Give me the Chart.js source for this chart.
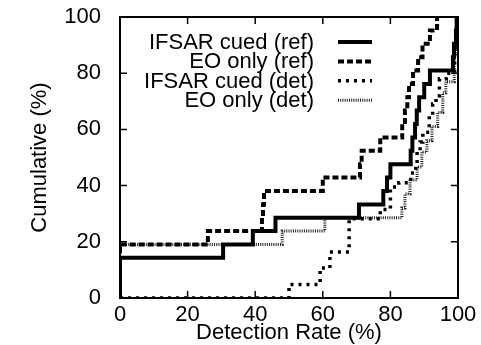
<!DOCTYPE html>
<html>
<head>
<meta charset="utf-8">
<script src="https://cdn.jsdelivr.net/npm/chart.js@4/dist/chart.umd.min.js"></script>
<style>
  html, body { margin: 0; padding: 0; background: #fff; }
  #wrap { width: 481px; height: 345px; }
</style>
</head>
<body>
<div id="wrap"><canvas id="cdfChart"></canvas></div>
<script>
// Step points: x = detection rate (%), y = cumulative (%)
const ifsarRefX = [0, 0, 30.5, 39.3, 46, 70.7, 77.9, 79, 80, 86, 86.5, 87.3, 87.8, 88.5, 90, 91.7, 98.5, 98.8, 99.4, 99.6];
const ifsarRefY = [0, 14.3, 19.0, 23.8, 28.6, 33.3, 38.1, 42.9, 47.6, 52.4, 57.1, 61.9, 66.7, 71.4, 76.2, 81.0, 85.7, 90.5, 95.2, 100];

const eoRefX = [0, 0, 26, 42, 42.3, 42.6, 60, 71, 71.5, 77, 83.5, 84.3, 85, 85.5, 86.7, 88.2, 89.5, 91.7, 93.8];
const eoRefY = [0, 19.0, 23.8, 28.6, 33.3, 38.1, 42.9, 47.6, 52.4, 57.1, 61.9, 66.7, 71.4, 76.2, 81.0, 85.7, 90.5, 95.2, 100];

const ifsarDetX = [0, 50, 59.2, 62.1, 67.8, 77, 80, 82.5, 86, 87.5, 87.9, 88.8, 89.6, 91.5, 92.5, 93.5, 94.5, 96.5, 99, 99.7];
const ifsarDetY = [0, 4.8, 10.7, 16.4, 28.2, 31.5, 39.5, 41, 44.5, 48, 52, 55.5, 59, 65, 69, 72, 78, 80, 89, 100];

const eoDetX = [0, 0, 48, 60.6, 83.4, 84.3, 85.8, 87.9, 89.3, 90.8, 92.3, 94, 95.5, 96.4, 98.9, 99.4, 100];
const eoDetY = [0, 19, 23.8, 28.6, 32, 37, 42, 46.6, 52, 56, 61, 66, 73, 77, 86, 92, 100];

const seriesLabels = ['IFSAR cued (ref)', 'EO only (ref)', 'IFSAR cued (det)', 'EO only (det)'];
const tickValues = [0, 20, 40, 60, 80, 100];

const FONT = 'Liberation Sans, Arial, Helvetica, sans-serif';

const toPoints = (xs, ys) => xs.map((x, i) => ({ x: x, y: ys[i] }));

// gnuplot-like frame with inward ticks on all four sides
const framePlugin = {
    id: 'frame',
    afterDatasetsDraw(chart) {
        const { ctx, chartArea: a, scales } = chart;
        ctx.save();
        ctx.strokeStyle = '#000';
        ctx.lineWidth = 1.5;
        ctx.beginPath();
        tickValues.forEach(v => {
            const px = scales.x.getPixelForValue(v);
            const py = scales.y.getPixelForValue(v);
            ctx.moveTo(px, a.bottom); ctx.lineTo(px, a.bottom - 7);
            ctx.moveTo(px, a.top); ctx.lineTo(px, a.top + 7);
            ctx.moveTo(a.left, py); ctx.lineTo(a.left + 7, py);
            ctx.moveTo(a.right, py); ctx.lineTo(a.right - 7, py);
        });
        ctx.stroke();
        ctx.lineWidth = 2;
        ctx.strokeRect(a.left, a.top, a.right - a.left, a.bottom - a.top);
        ctx.restore();
    }
};

// key in the top left: right-aligned text, sample line to its right
const keyPlugin = {
    id: 'key',
    afterDraw(chart) {
        const { ctx, chartArea: a } = chart;
        ctx.save();
        ctx.font = '22px ' + FONT;
        ctx.fillStyle = '#000';
        ctx.textAlign = 'right';
        ctx.textBaseline = 'middle';
        chart.data.datasets.forEach((ds, i) => {
            const y = a.top + 25 + i * 19.4;
            ctx.fillText(ds.label, 314, y + 1);
            ctx.beginPath();
            ctx.strokeStyle = ds.borderColor;
            ctx.lineWidth = ds.borderWidth;
            ctx.setLineDash(ds.borderDash || []);
            ctx.moveTo(338, y);
            ctx.lineTo(372, y);
            ctx.stroke();
        });
        ctx.restore();
    }
};

const ctx = document.getElementById('cdfChart').getContext('2d');
new Chart(ctx, {
    type: 'line',
    data: {
        datasets: [{
            label: seriesLabels[0],
            data: toPoints(ifsarRefX, ifsarRefY),
            borderColor: '#000',
            borderWidth: 4,
            borderDash: []
        }, {
            label: seriesLabels[1],
            data: toPoints(eoRefX, eoRefY),
            borderColor: '#000',
            borderWidth: 4,
            borderDash: [6, 3]
        }, {
            label: seriesLabels[2],
            data: toPoints(ifsarDetX, ifsarDetY),
            borderColor: '#000',
            borderWidth: 3.5,
            borderDash: [3, 5]
        }, {
            label: seriesLabels[3],
            data: toPoints(eoDetX, eoDetY),
            borderColor: '#222',
            borderWidth: 3,
            borderDash: [1, 1.2]
        }]
    },
    options: {
        responsive: true,
        maintainAspectRatio: false,
        animation: false,
        layout: { padding: { top: 17, right: 23, left: 0, bottom: 0 } },
        elements: {
            point: { radius: 0 },
            line: { stepped: 'before', tension: 0, fill: false, borderCapStyle: 'butt' }
        },
        plugins: {
            legend: { display: false },
            tooltip: { enabled: false }
        },
        scales: {
            x: {
                type: 'linear',
                min: 0,
                max: 100,
                afterFit: s => { s.height = 47; },
                afterBuildTicks: s => { s.ticks = tickValues.map(v => ({ value: v })); },
                grid: { display: false },
                border: { display: false },
                ticks: { color: '#000', padding: -4, maxRotation: 0, font: { family: FONT, size: 22 } },
                title: {
                    display: true,
                    text: 'Detection Rate (%)',
                    color: '#000',
                    font: { family: FONT, size: 22, lineHeight: 1 },
                    padding: { top: 0, bottom: 1 }
                }
            },
            y: {
                type: 'linear',
                min: 0,
                max: 100,
                afterFit: s => { s.width = 120; },
                afterBuildTicks: s => { s.ticks = tickValues.map(v => ({ value: v })); },
                grid: { display: false },
                border: { display: false },
                ticks: { color: '#000', padding: 11, font: { family: FONT, size: 22, lineHeight: 0.4 } },
                title: {
                    display: true,
                    text: 'Cumulative (%)',
                    color: '#000',
                    font: { family: FONT, size: 22, lineHeight: 1 },
                    padding: { top: 29, bottom: 0 }
                }
            }
        }
    },
    plugins: [framePlugin, keyPlugin]
});
</script>
</body>
</html>
